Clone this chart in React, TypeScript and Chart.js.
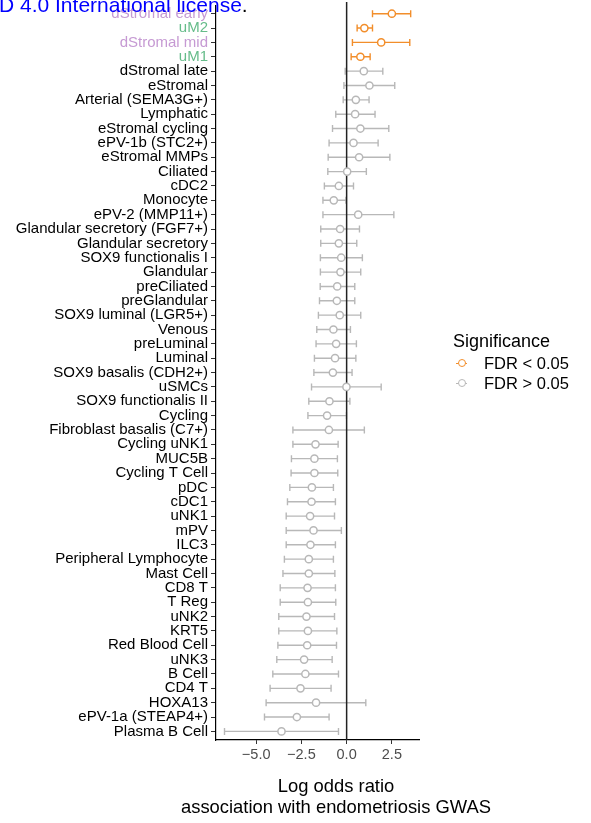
import React, { useEffect, useRef } from 'react';
import { Chart, registerables } from 'chart.js';

Chart.register(...registerables);

const categories = [
  'dStromal early', 'uM2', 'dStromal mid', 'uM1', 'dStromal late', 'eStromal',
  'Arterial (SEMA3G+)', 'Lymphatic', 'eStromal cycling', 'ePV-1b (STC2+)', 'eStromal MMPs',
  'Ciliated', 'cDC2', 'Monocyte', 'ePV-2 (MMP11+)', 'Glandular secretory (FGF7+)',
  'Glandular secretory', 'SOX9 functionalis I', 'Glandular', 'preCiliated', 'preGlandular',
  'SOX9 luminal (LGR5+)', 'Venous', 'preLuminal', 'Luminal', 'SOX9 basalis (CDH2+)', 'uSMCs',
  'SOX9 functionalis II', 'Cycling', 'Fibroblast basalis (C7+)', 'Cycling uNK1', 'MUC5B',
  'Cycling T Cell', 'pDC', 'cDC1', 'uNK1', 'mPV', 'ILC3', 'Peripheral Lymphocyte', 'Mast Cell',
  'CD8 T', 'T Reg', 'uNK2', 'KRT5', 'Red Blood Cell', 'uNK3', 'B Cell', 'CD4 T', 'HOXA13',
  'ePV-1a (STEAP4+)', 'Plasma B Cell',
];

const estimates = [
  2.50, 0.98, 1.91, 0.76, 0.95, 1.26, 0.51, 0.47, 0.76, 0.38, 0.69,
  0.03, -0.43, -0.71, 0.64, -0.36, -0.43, -0.30, -0.34, -0.52, -0.54,
  -0.38, -0.73, -0.58, -0.64, -0.76, -0.01, -0.95, -1.08, -0.98, -1.72, -1.78,
  -1.78, -1.92, -1.94, -2.02, -1.83, -2.00, -2.09, -2.09, -2.16, -2.14, -2.22,
  -2.14, -2.18, -2.35, -2.28, -2.55, -1.69, -2.75, -3.60,
];

const lowerCI = [
  1.43, 0.58, 0.32, 0.25, -0.08, -0.15, -0.19, -0.60, -0.78, -0.97, -1.02,
  -1.04, -1.23, -1.31, -1.31, -1.43, -1.43, -1.45, -1.45, -1.46, -1.50,
  -1.56, -1.65, -1.69, -1.78, -1.81, -1.94, -2.09, -2.14, -2.97, -2.97, -3.05,
  -3.07, -3.14, -3.27, -3.34, -3.34, -3.34, -3.44, -3.52, -3.67, -3.67, -3.75,
  -3.75, -3.80, -3.86, -4.08, -4.23, -4.45, -4.54, -6.75,
];

const upperCI = [
  3.54, 1.43, 3.49, 1.30, 2.00, 2.66, 1.24, 1.57, 2.33, 1.74, 2.39,
  1.09, 0.38, -0.04, 2.61, 0.71, 0.56, 0.87, 0.78, 0.45, 0.45,
  0.78, 0.21, 0.54, 0.51, 0.30, 1.91, 0.18, -0.01, 0.98, -0.47, -0.51,
  -0.49, -0.73, -0.62, -0.67, -0.29, -0.62, -0.73, -0.65, -0.62, -0.60, -0.67,
  -0.54, -0.56, -0.80, -0.45, -0.86, 1.06, -0.97, -0.45,
];

const significantCells = ['dStromal early', 'uM2', 'dStromal mid', 'uM1'];
const xTickValues = [-5, -2.5, 0, 2.5];
const legendLabels = ['FDR < 0.05', 'FDR > 0.05'];

const ORANGE = '#F28E2B';
const GREY = '#B8B8B8';
const PURPLE = '#C69AD3';
const GREEN = '#66BC8A';
const FONT = '"Liberation Sans", Arial, Helvetica, sans-serif';

const purpleLabels = ['dStromal early', 'dStromal mid'];
const greenLabels = ['uM1', 'uM2'];

function labelColor(name: string) {
  if (purpleLabels.includes(name)) return PURPLE;
  if (greenLabels.includes(name)) return GREEN;
  return '#000000';
}

function fmtTick(v: number) {
  return v < 0 ? '\u2212' + Math.abs(v).toFixed(1) : v.toFixed(1);
}

export default function App() {
  const ref = useRef<HTMLCanvasElement | null>(null);

  useEffect(() => {
    const canvas = ref.current;
    if (!canvas) return;

    const isSig = (i: number) => significantCells.includes(categories[i]);
    const sigData: { x: number; y: number }[] = [];
    const nsData: { x: number; y: number }[] = [];
    categories.forEach((_, i) => {
      (isSig(i) ? sigData : nsData).push({ x: estimates[i], y: i });
    });

    const errorBars = {
      id: 'errorBars',
      beforeDatasetsDraw(chart: any) {
        const { ctx, scales, chartArea } = chart;
        const xs = scales.x;
        const ys = scales.y;
        ctx.save();
        ctx.lineWidth = 1.4;
        categories.forEach((_, i) => {
          const y = ys.getPixelForValue(i);
          const x0 = xs.getPixelForValue(lowerCI[i]);
          const x1 = xs.getPixelForValue(upperCI[i]);
          ctx.strokeStyle = isSig(i) ? ORANGE : GREY;
          ctx.beginPath();
          ctx.moveTo(x0, y);
          ctx.lineTo(x1, y);
          ctx.moveTo(x0, y - 3.5);
          ctx.lineTo(x0, y + 3.5);
          ctx.moveTo(x1, y - 3.5);
          ctx.lineTo(x1, y + 3.5);
          ctx.stroke();
        });
        const zx = xs.getPixelForValue(0);
        ctx.strokeStyle = '#222222';
        ctx.lineWidth = 1.5;
        ctx.beginPath();
        ctx.moveTo(zx, chartArea.top - 3);
        ctx.lineTo(zx, chartArea.bottom);
        ctx.stroke();
        ctx.restore();
      },
      afterDraw(chart: any) {
        const { ctx, scales } = chart;
        const midY = (scales.y.top + scales.y.bottom) / 2 - 25;
        ctx.save();
        ctx.translate(-0.6, midY);
        ctx.rotate(-Math.PI / 2);
        ctx.font = '18px ' + FONT;
        ctx.fillStyle = '#000000';
        ctx.textAlign = 'center';
        ctx.textBaseline = 'alphabetic';
        ctx.fillText('Cell states', 0, 0);
        ctx.restore();
      },
    };

    const pointStyle = (color: string) => ({
      pointRadius: 3.6,
      pointHoverRadius: 3.6,
      pointBackgroundColor: '#ffffff',
      pointBorderColor: color,
      pointBorderWidth: 1.5,
      showLine: false,
    });

    const chart = new Chart(canvas, {
      type: 'scatter',
      data: {
        datasets: [
          { label: legendLabels[1], data: nsData, ...pointStyle(GREY) },
          { label: legendLabels[0], data: sigData, ...pointStyle(ORANGE) },
        ],
      },
      options: {
        responsive: false,
        animation: false,
        devicePixelRatio: 1,
        layout: { padding: { left: 0, right: 172, top: 3, bottom: 0 } },
        plugins: {
          legend: { display: false },
          tooltip: { enabled: false },
        },
        scales: {
          x: {
            type: 'linear',
            min: -7.22,
            max: 4.0,
            afterBuildTicks: (scale: any) => {
              scale.ticks = xTickValues.map((v) => ({ value: v }));
            },
            afterFit: (scale: any) => {
              scale.height = 83;
              scale.paddingLeft = 0;
              scale.paddingRight = 0;
            },
            ticks: {
              callback: (v: any) => fmtTick(Number(v)),
              color: '#4D4D4D',
              font: { family: FONT, size: 14.5 },
              padding: 2,
              maxRotation: 0,
              autoSkip: false,
            },
            grid: {
              drawOnChartArea: false,
              drawTicks: true,
              tickLength: 4,
              color: '#333333',
              lineWidth: 1,
            },
            border: { display: true, color: '#000000', width: 1.2 },
          },
          y: {
            type: 'linear',
            reverse: true,
            min: -0.6,
            max: categories.length - 1 + 0.6,
            afterBuildTicks: (scale: any) => {
              scale.ticks = categories.map((_, i) => ({ value: i }));
            },
            afterFit: (scale: any) => {
              scale.width = 216;
              scale.paddingTop = 0;
              scale.paddingBottom = 0;
            },
            ticks: {
              autoSkip: false,
              callback: (v: any) => categories[Number(v)] ?? '',
              color: (c: any) => labelColor(categories[c.tick ? c.tick.value : c.index] || ''),
              font: { family: FONT, size: 15 },
              padding: 3,
            },
            grid: {
              drawOnChartArea: false,
              drawTicks: true,
              tickLength: 5,
              color: '#333333',
              lineWidth: 1,
            },
            border: { display: true, color: '#000000', width: 1.2 },
          },
        },
      },
      plugins: [errorBars],
    } as any);

    return () => chart.destroy();
  }, []);

  const legendItem = (label: string, color: string, top: number) => (
    <div style={{ position: 'absolute', left: 453, top, height: 20, width: 140 }}>
      <div style={{ position: 'absolute', left: 3, top: 9.5, width: 11, height: 1.5, background: color }} />
      <div
        style={{
          position: 'absolute', left: 4.5, top: 6, width: 6, height: 6,
          borderRadius: '50%', border: `1.5px solid ${color}`, background: '#fff',
        }}
      />
      <div style={{ position: 'absolute', left: 31, top: 0, fontSize: 16.5, lineHeight: '20px', color: '#000', whiteSpace: 'nowrap' }}>
        {label}
      </div>
    </div>
  );

  return (
    <div style={{ position: 'absolute', left: 0, top: 0, width: 591, height: 823, overflow: 'hidden', background: '#fff', fontFamily: FONT }}>
      <canvas ref={ref} width={591} height={823} style={{ position: 'absolute', left: 0, top: 0, width: 591, height: 823 }} />
      <div style={{ position: 'absolute', left: -1, top: -6, fontSize: 21, lineHeight: '21px', whiteSpace: 'nowrap', color: '#0000FF' }}>
        D 4.0 International license<span style={{ color: '#000' }}>.</span>
      </div>
      <div style={{ position: 'absolute', left: 453, top: 332, fontSize: 18, lineHeight: '18px', color: '#000', whiteSpace: 'nowrap' }}>
        Significance
      </div>
      {legendItem(legendLabels[0], ORANGE, 353)}
      {legendItem(legendLabels[1], GREY, 373)}
      <div style={{ position: 'absolute', left: 136, top: 775, width: 400, textAlign: 'center', fontSize: 18.4, lineHeight: '21px', color: '#000' }}>
        Log odds ratio
        <br />
        association with endometriosis GWAS
      </div>
    </div>
  );
}
